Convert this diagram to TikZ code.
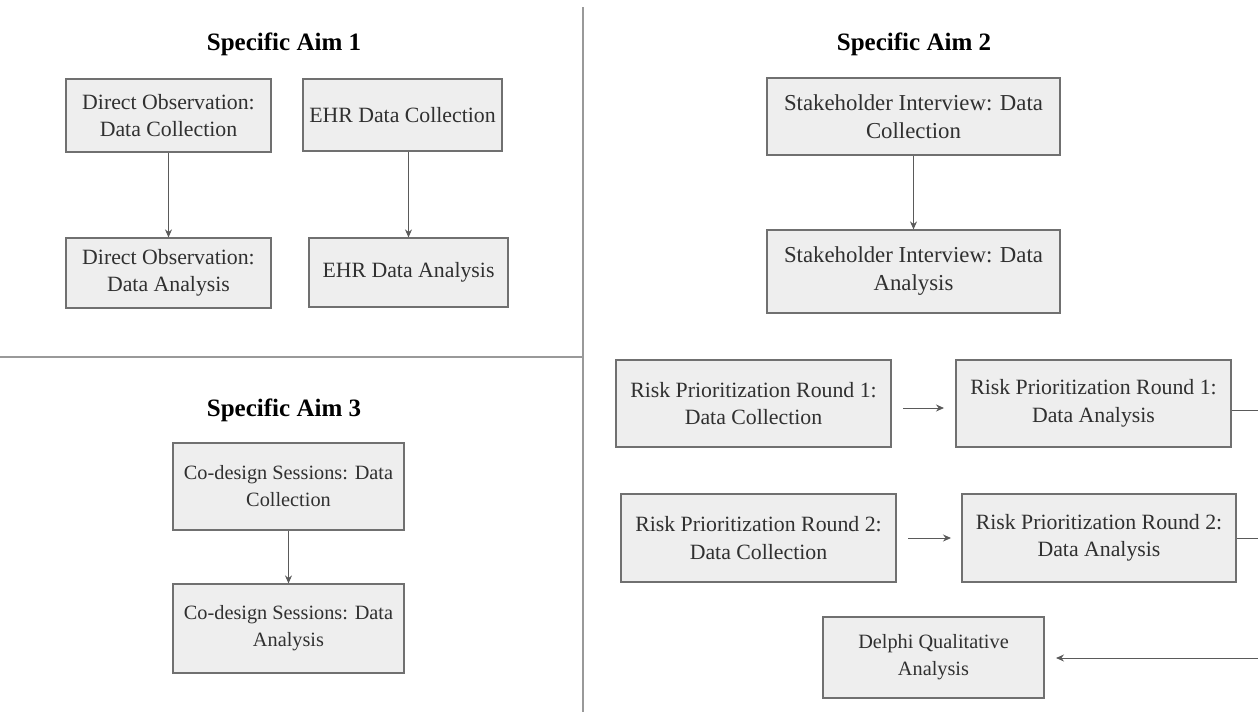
\documentclass[tikz,border=0pt]{standalone}
\usepackage{fontspec}
\setmainfont{Liberation Serif}
\usetikzlibrary{arrows.meta}
\definecolor{boxfill}{HTML}{EEEEEE}
\definecolor{boxline}{HTML}{707070}
\definecolor{linegray}{HTML}{5A5A5A}
\definecolor{textgray}{HTML}{303030}
\begin{document}
\begin{tikzpicture}[x=1pt,y=-1pt,
  stepbox/.style={draw=boxline,line width=1.2pt,fill=boxfill,align=center,
    font=\fontsize{21.8}{27.5}\selectfont,inner sep=0pt,text=textgray},
  smallbox/.style={stepbox,font=\fontsize{20.3}{27}\selectfont},
  widebox/.style={stepbox,font=\fontsize{22.8}{28}\selectfont},
  titlelab/.style={font=\fontsize{25}{28}\selectfont\bfseries},
  conn/.style={draw=linegray,line width=1pt,-{Stealth[length=8pt,width=7pt]}},
  plain/.style={draw=linegray,line width=1pt},
  divider/.style={draw=gray!80,line width=1.2pt}]
\useasboundingbox (0,0) rectangle (1258,718);
% dividers
\coordinate (vt) at (583,7);
\coordinate (vb) at (583,712);
\coordinate (hl) at (0,357);
\coordinate (hr) at (583,357);
\draw[divider] (vt) -- (vb);
\draw[divider] (hl) -- (hr);
% titles
\node[titlelab] (t1) at (284,44) {Specific Aim 1};
\node[titlelab] (t2) at (914,44) {Specific Aim 2};
\node[titlelab] (t3) at (284,410) {Specific Aim 3};
% Aim 1
\node[stepbox,minimum width=205,minimum height=73] (doc) at (168.5,115.5) {Direct Observation:\\Data Collection};
\node[stepbox,minimum width=199,minimum height=72] (ehrc) at (402.5,115) {EHR Data Collection};
\node[stepbox,minimum width=205,minimum height=70] (doa) at (168.5,273) {Direct Observation:\\Data Analysis};
\node[stepbox,minimum width=199,minimum height=69] (ehra) at (408.5,272.5) {EHR Data Analysis};
\draw[conn] (doc.south) -- (doa.north);
\draw[conn] (ehrc.south -| ehra.north) -- (ehra.north);
% Aim 3
\node[smallbox,minimum width=231,minimum height=87] (cdc) at (288.5,486.5) {Co-design Sessions: Data\\Collection};
\node[smallbox,minimum width=231,minimum height=89] (cda) at (288.5,628.5) {Co-design Sessions: Data\\Analysis};
\draw[conn] (cdc.south) -- (cda.north);
% Aim 2
\node[widebox,minimum width=293,minimum height=77] (shc) at (913.5,116.5) {Stakeholder Interview: Data\\Collection};
\node[widebox,minimum width=293,minimum height=83] (sha) at (913.5,271.5) {Stakeholder Interview: Data\\Analysis};
\draw[conn] (shc.south) -- (sha.north);
\node[stepbox,minimum width=275,minimum height=87] (r1c) at (753.5,403.5) {Risk Prioritization Round 1:\\Data Collection};
\node[stepbox,minimum width=275,minimum height=87] (r1a) at (1093.5,403.5) {Risk Prioritization Round 1:\\Data Analysis};
\node[stepbox,minimum width=275,minimum height=88] (r2c) at (758.5,538) {Risk Prioritization Round 2:\\Data Collection};
\node[stepbox,minimum width=274,minimum height=88] (r2a) at (1099,538) {Risk Prioritization Round 2:\\Data Analysis};
\node[smallbox,minimum width=221,minimum height=81] (del) at (933.5,657.5) {Delphi Qualitative\\Analysis};
\coordinate (r1s) at (903,408);
\coordinate (r1e) at (944,408);
\coordinate (r2s) at (908,538);
\coordinate (r2e) at (951,538);
\draw[conn] (r1s) -- (r1e);
\draw[conn] (r2s) -- (r2e);
\coordinate (e1) at (1258,410);
\coordinate (e2) at (1258,538);
\coordinate (e3) at (1258,658);
\coordinate (d3) at (1056,658);
\draw[plain] (r1a.east |- e1) -- (e1);
\draw[plain] (r2a.east |- e2) -- (e2);
\draw[conn] (e3) -- (d3);
\end{tikzpicture}
\end{document}
